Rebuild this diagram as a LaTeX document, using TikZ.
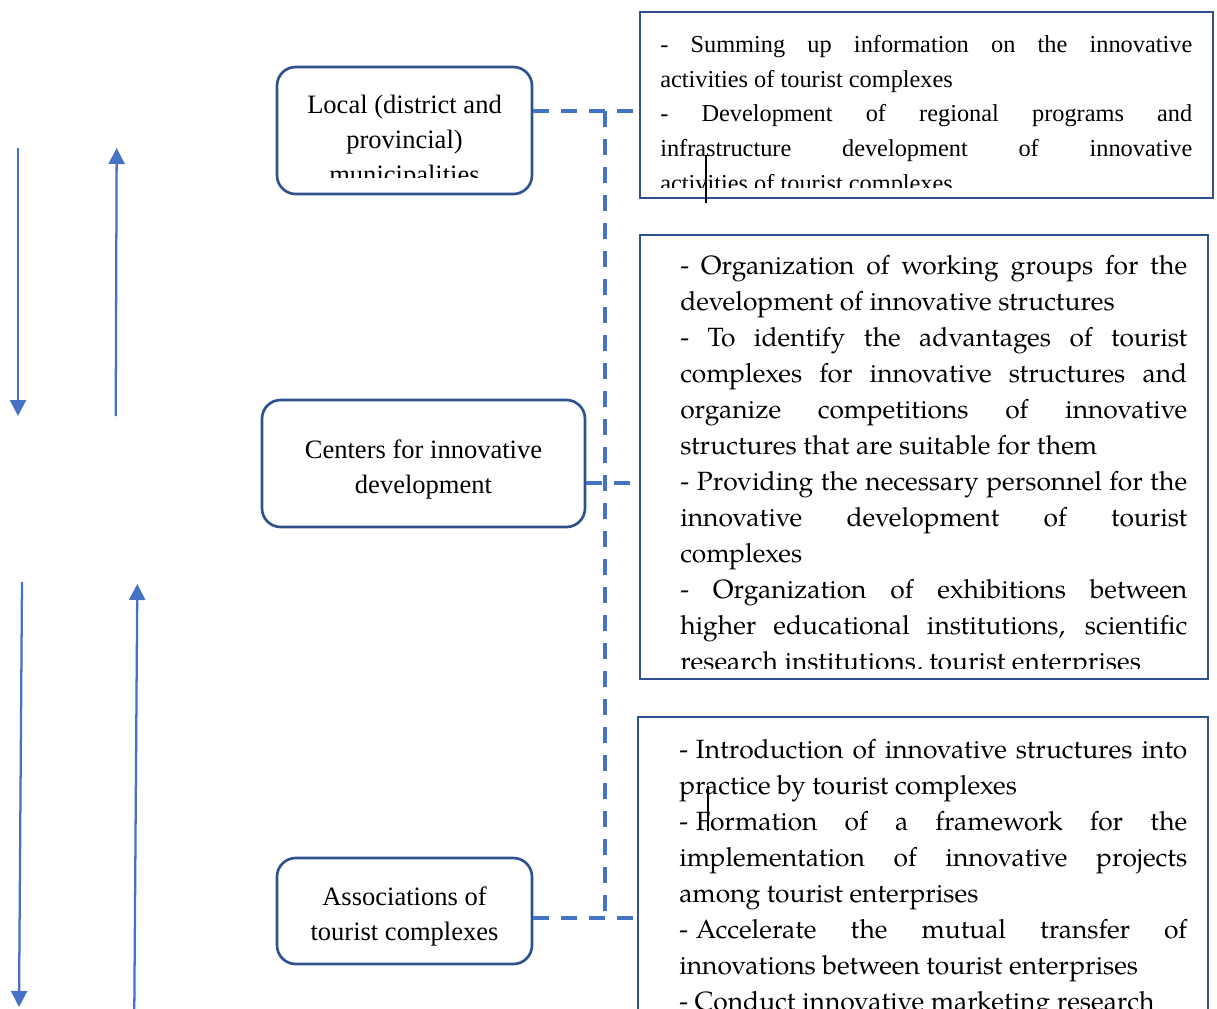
\documentclass[tikz,border=0pt]{standalone}
\usepackage{fontspec}
\setmainfont{Liberation Serif}
\newfontfamily\palfont{TeX Gyre Pagella}
\usetikzlibrary{arrows.meta,fit}

\definecolor{boxblue}{HTML}{2F528F}
\definecolor{linkblue}{HTML}{4472C4}

% one justified line / one ragged (last) line of a paragraph
\newcommand\jline[1]{\makebox[\linewidth][s]{#1}\par}
\newcommand\lline[1]{#1\par}
% fixed gap after a leading dash
\newcommand\dashgap{-\hspace{0.3em}}

\tikzset{
  levelbox/.style={draw=boxblue, line width=2pt, rounded corners=14pt, inner sep=0pt},
  taskbox/.style={draw=boxblue, line width=1.6pt, inner sep=0pt},
  leveltext/.style={inner sep=0pt, anchor=base},
  tasktext/.style={inner sep=0pt, anchor=base west},
  link/.style={draw=linkblue, line width=3pt, dash pattern=on 12pt off 9pt},
  flow/.style={draw=linkblue, line width=1.7pt, -{Triangle[width=12pt,length=12pt]}},
  cursormark/.style={draw=black, line width=0.8pt}
}

\begin{document}
\begin{tikzpicture}[x=0.75pt, y=-0.75pt]
  \clip (0,0) rectangle (1217,1008);
  \useasboundingbox (0,0) rectangle (1217,1008);

  % ---- vertical flow arrows on the left ----
  \coordinate (d1s) at (18,148);  \coordinate (d1e) at (18,416);
  \coordinate (u1s) at (115.7,416); \coordinate (u1e) at (116.7,148);
  \coordinate (d2s) at (22,582);  \coordinate (d2e) at (19,1007);
  \coordinate (u2s) at (134.3,1010); \coordinate (u2e) at (137.3,584);
  \draw[flow] (d1s) -- (d1e);
  \draw[flow] (u1s) -- (u1e);
  \draw[flow] (d2s) -- (d2e);
  \draw[flow] (u2s) -- (u2e);

  % ---- management levels ----
  \node[levelbox, fit={(277,67) (532,194)}] (loc) {};
  \node[levelbox, fit={(262,400) (585,527)}] (cen) {};
  \node[levelbox, fit={(277,858) (532,964)}] (ass) {};

  \begin{scope}
    \clip (277,67) rectangle (532,177);
    \node[leveltext] (loctext) at (404.5,113)
      {\parbox[t]{240pt}{\centering\fontsize{19.9}{26.25}\selectfont
        Local (district and\\provincial)\\municipalities}};
  \end{scope}
  \node[leveltext] (centext) at (423.5,458)
    {\parbox[t]{240pt}{\centering\fontsize{19.9}{26.25}\selectfont
      Centers for innovative\\development}};
  \node[leveltext] (asstext) at (404.5,905)
    {\parbox[t]{240pt}{\centering\fontsize{19.9}{26.25}\selectfont
      Associations of\\tourist complexes}};

  % ---- task boxes ----
  \node[taskbox, fit={(640,12) (1213,198)}] (t1) {};
  \node[taskbox, fit={(640,235) (1208,679)}] (t2) {};
  \node[taskbox, fit={(638,717) (1208,1040)}] (t3) {};

  \begin{scope}
    \clip (640,12) rectangle (1213,187);
    \node[tasktext] (t1text) at (660,52.5)
      {\parbox[t]{399pt}{\fontsize{18.25}{26}\selectfont\lineskiplimit=-20pt
        \jline{- Summing up information on the innovative}
        \lline{activities of tourist complexes}
        \jline{- Development of regional programs and}
        \jline{infrastructure development of innovative}
        \lline{activities of tourist complexes}}};
  \end{scope}

  \begin{scope}
    \clip (640,235) rectangle (1208,668);
    \node[tasktext] (t2text) at (680,274)
      {\parbox[t]{380.25pt}{\palfont\fontsize{19.8}{27}\selectfont\lineskiplimit=-20pt
        \jline{- Organization of working groups for the}
        \lline{development of innovative structures}
        \jline{- To identify the advantages of tourist}
        \jline{complexes for innovative structures and}
        \jline{organize competitions of innovative}
        \lline{structures that are suitable for them}
        \jline{\dashgap Providing the necessary personnel for the}
        \jline{innovative development of tourist}
        \lline{complexes}
        \jline{- Organization of exhibitions between}
        \jline{higher educational institutions, scientific}
        \lline{research institutions, tourist enterprises}}};
  \end{scope}

  \begin{scope}
    \clip (638,717) rectangle (1208,1008);
    \node[tasktext] (t3text) at (679,758)
      {\parbox[t]{381pt}{\palfont\fontsize{19.8}{27}\selectfont\lineskiplimit=-20pt
        \jline{\dashgap Introduction of innovative structures into}
        \lline{practice by tourist complexes}
        \jline{\dashgap Formation of a framework for the}
        \jline{implementation of innovative projects}
        \lline{among tourist enterprises}
        \jline{\dashgap Accelerate the mutual transfer of}
        \lline{innovations between tourist enterprises}
        \lline{- Conduct innovative marketing research}}};
  \end{scope}

  % ---- thin cursor marks ----
  \coordinate (m1a) at (706,155); \coordinate (m1b) at (706,203);
  \coordinate (m2a) at (708,786); \coordinate (m2b) at (708,831);
  \draw[cursormark] (m1a) -- (m1b);
  \draw[cursormark] (m2a) -- (m2b);

  % ---- dashed links between levels and task boxes ----
  \coordinate (j1) at (605,111);
  \coordinate (j2) at (605,483);
  \coordinate (j3) at (605,918);
  \draw[link] (loc.east |- j1) -- (t1.west |- j1);
  \draw[link] (j1) -- (j3);
  \draw[link] (cen.east |- j2) -- (t2.west |- j2);
  \draw[link] (ass.east |- j3) -- (t3.west |- j3);
\end{tikzpicture}
\end{document}
